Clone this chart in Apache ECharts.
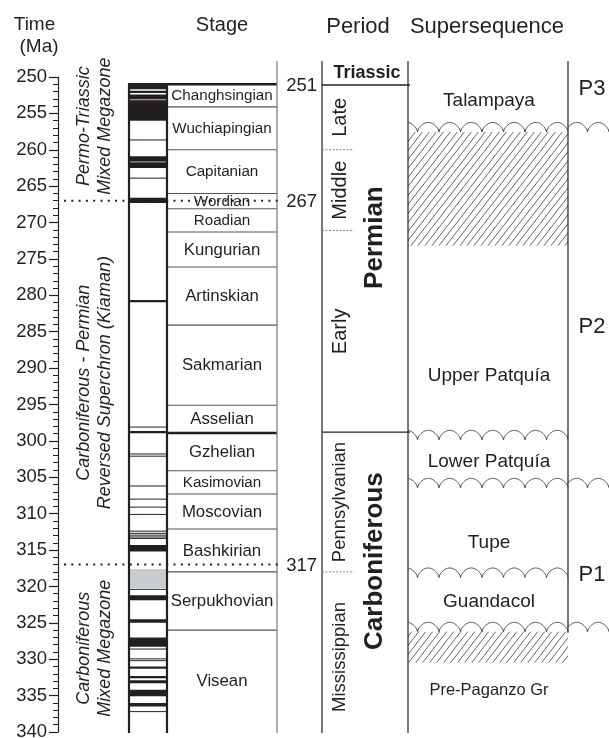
<!DOCTYPE html>
<html>
<head>
<meta charset="utf-8">
<title>Permo-Carboniferous time chart</title>
<script src="https://cdn.jsdelivr.net/npm/echarts@6/dist/echarts.min.js"></script>
<style>
  html, body { margin: 0; padding: 0; background: #fff; }
  #chart { width: 609px; height: 738px; }
</style>
</head>
<body>
<div id="chart"></div>
<script>
// ---- data (ages in Ma) ----
var timeMin = 250, timeMax = 340;

// magnetic polarity column
var magBlack = [[251.0, 251.7], [251.9, 252.2], [252.4, 256.0], [260.9, 262.5], [266.6, 267.3],
  [280.65, 280.95], [298.65, 298.95], [314.3, 315.2], [321.2, 321.9], [324.5, 325.0],
  [327.0, 328.3], [331.0, 331.3], [332.3, 332.6], [332.9, 333.3], [334.2, 335.1], [336.0, 336.5]];
var magGrey = [[317.6, 320.2]];
var magThin = [258.65, 263.9, 298.1, 301.8, 302.1, 306.2, 308.0, 309.1, 310.1, 312.4, 312.7,
  312.95, 313.2, 313.4, 320.4, 328.6, 329.95, 330.2, 337.2];
var magGreyLines = [253.1, 261.65];

var zoneNames = [['Permo-Triassic', 'Mixed Megazone'],
  ['Carboniferous - Permian', 'Reversed Superchron (Kiaman)'],
  ['Carboniferous', 'Mixed Megazone']];
var zoneLimits = [[250, 263.5], [267, 317], [317, 340]];

// stages
var stageNames = ['Changhsingian', 'Wuchiapingian', 'Capitanian', 'Wordian', 'Roadian', 'Kungurian',
  'Artinskian', 'Sakmarian', 'Asselian', 'Gzhelian', 'Kasimovian', 'Moscovian', 'Bashkirian',
  'Serpukhovian', 'Visean'];
var stageTops = [251.0, 254.1, 260.0, 266.0, 268.1, 271.3, 276.1, 284.1, 295.1, 298.9, 304.1,
  307.3, 312.1, 318.0, 326.0];
var stageBase = 340;

// ages written beside the column
var markedAges = [251, 267, 317];
var dottedAges = [267, 317];

// periods and epochs
var periodNames = ['Triassic', 'Permian', 'Carboniferous'];
var periodBase = [251.1, 298.8, 340];
var epochNames = ['Late', 'Middle', 'Early', 'Pennsylvanian', 'Mississippian'];
var epochTops = [251.1, 260.0, 271.1, 298.8, 318.0];

// supersequences
var unitNames = ['Talampaya', 'Upper Patquía', 'Lower Patquía', 'Tupe', 'Guandacol', 'Pre-Paganzo Gr'];
var unitMid = [253.2, 291.0, 302.8, 313.95, 322.1, 334.3];
var unconformities = [257.55, 299.85, 306.45, 318.77, 326.23];
var seqBoundaries = [257.55, 306.45, 326.23];
var hiatus = [[257.55, 273.2], [326.23, 330.45]];
var seqNames = ['P3', 'P2', 'P1'];
var seqMid = [251.7, 284.3, 318.4];

// ---- layout ----
var INK = '#231f20';
var FONT = "'Liberation Sans', Arial, Helvetica, sans-serif";
var COL = {magL: 129, magR: 167, stageR: 277, ageR: 317, perL: 322, epochR: 354,
  perR: 408, seqR: 568, right: 609};
var FRAME_UP = 16;   // px the column frame rises above 250 Ma

function hline(x1, x2, y, stroke, w, dash) {
  return {type: 'line', shape: {x1: x1, y1: y, x2: x2, y2: y},
    style: {stroke: stroke, lineWidth: w, lineDash: dash || null}};
}
function vline(x, y1, y2, stroke, w) {
  return {type: 'line', shape: {x1: x, y1: y1, x2: x, y2: y2}, style: {stroke: stroke, lineWidth: w}};
}
function rect(x1, x2, y1, y2, fill) {
  return {type: 'rect', shape: {x: x1, y: y1, width: x2 - x1, height: y2 - y1}, style: {fill: fill}};
}
function txt(s, x, y, font, rot) {
  return {type: 'text', x: x, y: y, rotation: rot || 0,
    style: {text: s, font: font, fill: INK, align: 'center', verticalAlign: 'middle',
      textAlign: 'center', textVerticalAlign: 'middle'}};
}
function Y(api, t) { return api.coord([COL.magL, t])[1]; }

function hatchPattern() {
  var c = document.createElement('canvas');
  c.width = 7; c.height = 9;
  var g = c.getContext('2d');
  g.strokeStyle = '#555'; g.lineWidth = 0.9;
  g.beginPath();
  g.moveTo(0, 9); g.lineTo(7, 0);
  g.moveTo(-7, 9); g.lineTo(0, 0);
  g.moveTo(7, 9); g.lineTo(14, 0);
  g.stroke();
  return c;
}
var hatch = {image: hatchPattern(), repeat: 'repeat'};

function wave(x1, x2, base) {
  var P = 21.5, h = 9.5, pts = [];
  for (var x = x1; x <= x2 + 0.01; x += 0.5) {
    var ph = ((x2 - x) % P) / P;
    pts.push([x, base - h * Math.pow(Math.sin(Math.PI * ph), 0.6)]);
  }
  return {type: 'polyline', shape: {points: pts}, style: {stroke: '#444', lineWidth: 1, fill: null}};
}

var chart = echarts.init(document.getElementById('chart'));

var option = {
  animation: false,
  grid: {left: 58, right: 0, top: 77, bottom: 6, outerBoundsMode: 'none'},
  xAxis: {type: 'value', min: 58, max: 609, show: false},
  yAxis: {
    type: 'value', inverse: true, min: timeMin, max: timeMax, interval: 5,
    axisLine: {show: true, lineStyle: {color: INK, width: 1.2}},
    axisTick: {show: true, length: 9, lineStyle: {color: INK, width: 1.2}},
    minorTick: {show: true, splitNumber: 5, length: 5, lineStyle: {color: INK, width: 1}},
    splitLine: {show: false},
    axisLabel: {fontSize: 18.5, color: INK, margin: 11, fontFamily: FONT}
  },
  graphic: [
    {type: 'text', x: 34.5, y: 25, style: {text: 'Time', font: '19px ' + FONT, fill: INK, align: 'center', verticalAlign: 'middle'}},
    {type: 'text', x: 39, y: 47, style: {text: '(Ma)', font: '19px ' + FONT, fill: INK, align: 'center', verticalAlign: 'middle'}},
    {type: 'text', x: 222, y: 25, style: {text: 'Stage', font: '20px ' + FONT, fill: INK, align: 'center', verticalAlign: 'middle'}},
    {type: 'text', x: 358, y: 27, style: {text: 'Period', font: '22px ' + FONT, fill: INK, align: 'center', verticalAlign: 'middle'}},
    {type: 'text', x: 487, y: 27, style: {text: 'Supersequence', font: '22px ' + FONT, fill: INK, align: 'center', verticalAlign: 'middle'}}
  ],
  series: [
    // hiatus hatching
    {
      type: 'custom', z: 1, data: hiatus,
      renderItem: function (params, api) {
        return rect(COL.perR, COL.seqR, Y(api, api.value(0)), Y(api, api.value(1)), hatch);
      }
    },
    // magnetic polarity bands
    {
      type: 'custom', z: 2,
      data: magBlack.map(function (d) { return [d[0], d[1], 0]; })
        .concat(magGrey.map(function (d) { return [d[0], d[1], 1]; }))
        .concat(magThin.map(function (t) { return [t, t, 2]; }))
        .concat(magGreyLines.map(function (t) { return [t, t, 3]; })),
      renderItem: function (params, api) {
        var k = api.value(2), y1 = Y(api, api.value(0)), y2 = Y(api, api.value(1));
        if (k === 0) return rect(COL.magL, COL.magR, y1, y2, INK);
        if (k === 1) return rect(COL.magL, COL.magR, y1, y2, '#c9cdd0');
        if (k === 2) return hline(COL.magL, COL.magR, y1, INK, 1);
        return hline(COL.magL, COL.magR, y1, '#9a9a9a', 1.2);
      }
    },
    // magnetozone names
    {
      type: 'custom', z: 2, data: zoneLimits,
      renderItem: function (params, api) {
        var y = (Y(api, api.value(0)) + Y(api, api.value(1))) / 2;
        var names = zoneNames[params.dataIndex];
        return {type: 'group', children: [
          txt(names[0], 83.5, y, 'italic 18px ' + FONT, Math.PI / 2),
          txt(names[1], 104.5, y, 'italic 18px ' + FONT, Math.PI / 2)
        ]};
      }
    },
    // stages
    {
      type: 'custom', z: 3,
      data: stageTops.map(function (t, i) {
        return [t, i + 1 < stageTops.length ? stageTops[i + 1] : stageBase];
      }),
      renderItem: function (params, api) {
        var y1 = Y(api, api.value(0)), y2 = Y(api, api.value(1));
        var base = api.value(1);
        // Guadalupian/Lopingian names and thin boxes are set smaller in the figure
        var fs = (api.value(0) < 271 || (y2 - y1) < 25) ? 15.2 : 16.8;
        var kids = [txt(stageNames[params.dataIndex], (COL.magR + COL.stageR) / 2, (y1 + y2) / 2 + 0.5, fs + 'px ' + FONT)];
        if (base < stageBase) {
          var thick = Math.abs(base - 298.9) < 0.05;
          kids.push(hline(COL.magR, COL.stageR, y2, thick ? INK : '#555', thick ? 2.5 : 1.1));
        }
        return {type: 'group', children: kids};
      }
    },
    // column frame
    {
      type: 'custom', z: 4, data: [[stageTops[0], stageBase]],
      renderItem: function (params, api) {
        var top = Y(api, timeMin) - FRAME_UP, y1 = Y(api, api.value(0)), yb = Y(api, api.value(1)) + 1;
        var lastSeq = Y(api, seqBoundaries[seqBoundaries.length - 1]) + 1;
        return {type: 'group', children: [
          vline(COL.magL, y1 - 1, yb, INK, 2.2),
          vline(COL.magR, y1 - 1, yb, INK, 2.2),
          hline(COL.magL - 1, COL.stageR, y1, INK, 2.5),
          vline(COL.stageR, top, yb, '#777', 1.2),
          vline(COL.perL, top, yb, INK, 1.2),
          vline(COL.perR, top, yb, INK, 1.2),
          vline(COL.seqR, top, lastSeq, INK, 1.2)
        ]};
      }
    },
    // periods
    {
      type: 'custom', z: 4,
      data: periodBase.map(function (b, i) { return [i ? periodBase[i - 1] : timeMin, b]; }),
      renderItem: function (params, api) {
        var i = params.dataIndex, y1 = Y(api, api.value(0)), y2 = Y(api, api.value(1));
        var kids = [];
        if (i === 0) {
          y1 -= FRAME_UP;
          kids.push(txt(periodNames[i], 367, (y1 + y2) / 2, 'bold 18px ' + FONT));
        } else {
          kids.push(txt(periodNames[i], 375, (y1 + y2) / 2 - 21, 'bold 26px ' + FONT, Math.PI / 2));
        }
        if (api.value(1) < timeMax) kids.push(hline(COL.perL, COL.perR + 2, y2, INK, 1.3));
        return {type: 'group', children: kids};
      }
    },
    // epochs
    {
      type: 'custom', z: 4,
      data: epochTops.map(function (t, i) {
        return [t, i + 1 < epochTops.length ? epochTops[i + 1] : timeMax];
      }),
      renderItem: function (params, api) {
        var i = params.dataIndex, y1 = Y(api, api.value(0)), y2 = Y(api, api.value(1));
        var name = epochNames[i];
        var last = i === epochNames.length - 1;
        var kids = [txt(name, 340, (y1 + y2) / 2 + (last ? 5 : 0), (name.length > 8 ? 18.5 : 20) + 'px ' + FONT, Math.PI / 2)];
        if (periodBase.indexOf(api.value(0)) < 0) {
          kids.push(hline(COL.perL, COL.epochR, y1, '#888', 1, [2, 1.5]));
        }
        return {type: 'group', children: kids};
      }
    },
    // unconformities (wavy surfaces)
    {
      type: 'custom', z: 5, data: unconformities,
      renderItem: function (params, api) {
        var t = api.value(0), y = Y(api, t);
        var kids = [wave(COL.perR, COL.seqR, y)];
        if (seqBoundaries.indexOf(t) >= 0) kids.push(wave(COL.seqR, COL.right, y));
        return {type: 'group', children: kids};
      }
    },
    // lithostratigraphic units
    {
      type: 'custom', z: 5, data: unitMid,
      renderItem: function (params, api) {
        var last = params.dataIndex === unitNames.length - 1;
        return txt(unitNames[params.dataIndex], (COL.perR + COL.seqR) / 2 + 1, Y(api, api.value(0)),
          (last ? 16.5 : 19) + 'px ' + FONT);
      }
    },
    // supersequences
    {
      type: 'custom', z: 5, data: seqMid,
      renderItem: function (params, api) {
        return txt(seqNames[params.dataIndex], 592, Y(api, api.value(0)), '22px ' + FONT);
      }
    },
    // ages beside the stage column
    {
      type: 'custom', z: 6, data: markedAges,
      renderItem: function (params, api) {
        var t = api.value(0), y = Y(api, t);
        var t1 = txt(String(t), 0, y + 1.5, '18.5px ' + FONT);
        t1.x = COL.ageR; t1.style.align = 'right'; t1.style.textAlign = 'right';
        var kids = [t1];
        if (dottedAges.indexOf(t) >= 0) {
          kids.push(hline(64, 283, y, INK, 2, [2, 5.3]));
        }
        return {type: 'group', children: kids};
      }
    }
  ]
};

chart.setOption(option);
</script>
</body>
</html>
